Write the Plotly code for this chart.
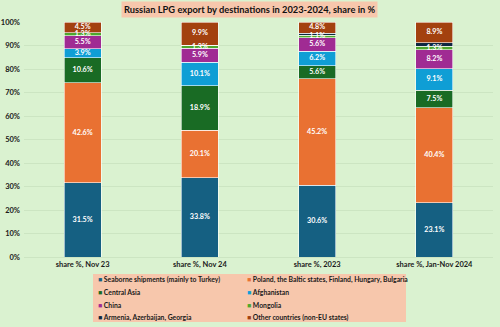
import plotly.graph_objects as go
import numpy as np

categories = ["share %, Nov 23", "share %, Nov 24", "share %, 2023", "share %, Jan-Nov 2024"]

series_names = [
    "Seaborne shipments (mainly to Turkey)",
    "Poland, the Baltic states, Finland, Hungary, Bulgaria",
    "Central Asia",
    "Afghanistan",
    "China",
    "Mongolia",
    "Armenia, Azerbaijan, Georgia",
    "Other countries (non-EU states)",
]

seaborne = [31.5, 33.8, 30.6, 23.1]
poland_baltic = [42.6, 20.1, 45.2, 40.4]
central_asia = [10.6, 18.9, 5.6, 7.5]
afghanistan = [3.9, 10.1, 6.2, 9.1]
china = [5.5, 5.9, 5.6, 8.2]
mongolia = [1.3, 1.3, 1.1, 1.3]
armenia_az_ge = [0.1, 0.0, 0.9, 1.5]
other = [4.5, 9.9, 4.8, 8.9]

series_values = [seaborne, poland_baltic, central_asia, afghanistan, china, mongolia, armenia_az_ge, other]
colors = ["#156082", "#E97132", "#196B24", "#0F9ED5", "#A02B93", "#4EA72E", "#0E2841", "#A3410F"]
show_labels = [True, True, True, True, True, True, False, True]

BG = "#DAF2D0"
SALMON = "#F7C7AC"
FONT = "Lato"
W, H = 500, 327
ML, MR, MT, MB = 24, 7, 22, 70
PW, PH = W - ML - MR, H - MT - MB

fig = go.Figure()
for name, vals, col in zip(series_names, series_values, colors):
    fig.add_trace(go.Bar(
        x=categories, y=vals, name=name,
        marker=dict(color=col, line=dict(color="white", width=0.6)),
        showlegend=False, hoverinfo="name+y",
    ))

# segment labels drawn on top of all bars (like the original chart)
vals_arr = np.array(series_values)
tops = np.cumsum(vals_arr, axis=0)
mids = tops - vals_arr / 2
lab_x, lab_y, lab_t = [], [], []
for s, lab in enumerate(show_labels):
    if not lab:
        continue
    for c, cat in enumerate(categories):
        lab_x.append(cat)
        lab_y.append(mids[s, c])
        lab_t.append(f"{vals_arr[s, c]:.1f}%")
fig.add_trace(go.Scatter(
    x=lab_x, y=lab_y, text=lab_t, mode="text", cliponaxis=False,
    textfont=dict(family=FONT, size=7.2, color="white", weight="bold"),
    showlegend=False, hoverinfo="skip",
))

def px_to_paper_x(px):
    return (px - ML) / PW

def px_to_paper_y(py):
    return (H - MB - py) / PH

annotations = [dict(
    text="<b>Russian LPG export by destinations in 2023-2024, share in %</b>",
    x=px_to_paper_x(249), y=px_to_paper_y(9), xref="paper", yref="paper",
    xanchor="center", yanchor="middle", showarrow=False,
    font=dict(family=FONT, size=9.3, color="#111111"),
    bgcolor=SALMON, borderpad=2,
)]

col_x = [96, 245]
row_y0, row_dy = 279.5, 12.5
for i, (name, col) in enumerate(zip(series_names, colors)):
    c, r = i % 2, i // 2
    annotations.append(dict(
        text=f"<span style='color:{col}'>■</span> <b>{name}</b>",
        x=px_to_paper_x(col_x[c]), y=px_to_paper_y(row_y0 + r * row_dy),
        xref="paper", yref="paper", xanchor="left", yanchor="middle",
        showarrow=False, font=dict(family=FONT, size=6.8, color="#1a1a1a"),
    ))

shapes = [dict(
    type="rect", xref="paper", yref="paper", layer="below",
    x0=px_to_paper_x(93), x1=px_to_paper_x(406),
    y0=px_to_paper_y(322), y1=px_to_paper_y(274),
    fillcolor=SALMON, line=dict(width=0),
)]

fig.update_layout(
    barmode="stack",
    bargap=0.685,
    width=W, height=H,
    margin=dict(l=ML, r=MR, t=MT, b=MB, autoexpand=False),
    paper_bgcolor=BG, plot_bgcolor=BG,
    font=dict(family=FONT, color="#1a1a1a"),
    annotations=annotations,
    shapes=shapes,
    showlegend=False,
)
fig.update_yaxes(
    range=[0, 100], dtick=10, ticksuffix="%",
    showgrid=True, gridcolor="#CCE5C2", gridwidth=0.8,
    zeroline=False, showline=False, automargin=False,
    tickfont=dict(family=FONT, size=7.5, weight="bold", color="#1a1a1a"),
    ticklabelstandoff=3,
)
fig.update_xaxes(
    showline=True, linecolor="#CCE5C2", linewidth=0.8, automargin=False,
    tickfont=dict(family=FONT, size=7.5, weight="bold", color="#1a1a1a"),
)

fig.write_html("out.html")
